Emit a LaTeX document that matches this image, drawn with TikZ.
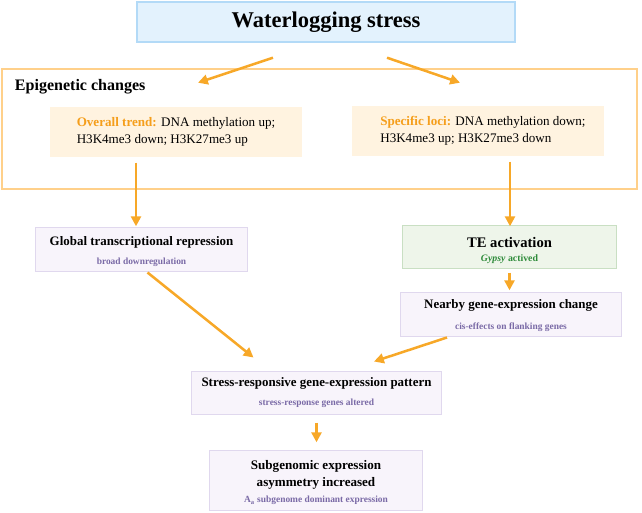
\documentclass[tikz,border=0pt]{standalone}
\usepackage{fontspec}
\setmainfont{Liberation Serif}
\usepackage{xcolor}
\usepackage{tikz}
\usetikzlibrary{arrows.meta, positioning, calc}

\definecolor{skyfill}{HTML}{E3F2FD}
\definecolor{skyline}{HTML}{B3DAF7}
\definecolor{frameline}{HTML}{FFD08A}
\definecolor{peach}{HTML}{FFF3E0}
\definecolor{trendorange}{HTML}{F59E1B}
\definecolor{flowcol}{HTML}{F7A828}
\definecolor{lavfill}{HTML}{F8F4FB}
\definecolor{lavline}{HTML}{E0D8EE}
\definecolor{subpurple}{HTML}{7A6AA6}
\definecolor{mintfill}{HTML}{EEF5EA}
\definecolor{mintline}{HTML}{C9DFC3}
\definecolor{leafgreen}{HTML}{2E8B3A}

\newcommand{\boxhead}[1]{{\fontsize{9.2}{11}\selectfont\bfseries #1}}
\newcommand{\boxsub}[1]{{\fontsize{6.7}{8}\selectfont\bfseries\color{subpurple}#1}}

\begin{document}
\begin{tikzpicture}[
    x=0.025cm, y=-0.025cm,
    flow/.style={draw=flowcol, line width=1.8pt, -{Triangle[length=7pt,width=7pt]}},
    stressbox/.style={draw=skyline, line width=1pt, fill=skyfill, minimum width=9.45cm, minimum height=1cm, font=\fontsize{16}{19}\selectfont\bfseries},
    epiframe/.style={draw=frameline, line width=1pt, minimum width=15.875cm, minimum height=3cm},
    markbox/.style={fill=peach, minimum width=6.3cm, minimum height=1.27cm, align=left, font=\fontsize{9.3}{12}\selectfont},
    outbox/.style={draw=lavline, line width=0.7pt, fill=lavfill, align=center, inner sep=0pt},
    tebox/.style={draw=mintline, line width=0.7pt, fill=mintfill, align=center, inner sep=0pt}
]
\useasboundingbox (0,0) rectangle (642,512);

% top and epigenetic block
\node[stressbox] (stress) at (326,22) {Waterlogging stress};
\node[epiframe] (epi) at (319.5,129) {};
\node[anchor=west, font=\fontsize{11.4}{13}\selectfont\bfseries] (epititle) at (10,87) {Epigenetic changes};
\node[markbox] (trend) at (176,132)
  {\textcolor{trendorange}{\bfseries Overall trend:} DNA methylation up;\\H3K4me3 down; H3K27me3 up};
\node[markbox] (loci) at (478,131)
  {\hspace*{7pt}\textcolor{trendorange}{\bfseries Specific loci:} DNA methylation down;\\\hspace*{7pt}H3K4me3 up; H3K27me3 down};

% downstream boxes
\node[outbox, minimum width=5.275cm, minimum height=1.1cm] (global) at (141.5,249)
  {\boxhead{\rule{0pt}{9.5pt}Global transcriptional repression}\\[1.5pt]\boxsub{broad downregulation}};
\node[tebox, minimum width=5.325cm, minimum height=1.075cm] (te) at (509.5,246.5)
  {{\fontsize{10.4}{12}\selectfont\bfseries\rule{0pt}{12.7pt}TE activation}\\[-2.4pt]{\fontsize{7}{8}\selectfont\bfseries\color{leafgreen}\itshape Gypsy\upshape{} actived}};
\node[outbox, minimum width=5.5cm, minimum height=1.1cm] (nearby) at (511,314)
  {\boxhead{\rule{0pt}{8.5pt}Nearby gene-expression change}\\[3pt]\boxsub{cis-effects on flanking genes}};
\node[outbox, minimum width=6.225cm, minimum height=1.075cm] (pattern) at (316.5,392.5)
  {\boxhead{Stress-responsive gene-expression pattern}\\[2pt]\boxsub{stress-response genes altered}};
\node[outbox, minimum width=5.3cm, minimum height=1.5cm, font=\fontsize{9.3}{11.9}\selectfont\bfseries] (asym) at (316,480)
  {\rule{0pt}{10.5pt}Subgenomic expression\\asymmetry increased\\[-0.5pt]\boxsub{A\textsubscript{a} subgenome dominant expression}};

% arrows
\draw[flow] ([shift={(-53,15)}]stress.south) -- ([shift={(-128,40)}]stress.south);
\draw[flow] ([shift={(61,15)}]stress.south) -- ([shift={(134,40)}]stress.south);
\draw[flow, shorten >=1.3mm] ([shift={(-40,5)}]trend.south) -- ([shift={(-40,5)}]trend.south |- global.north);
\draw[flow, shorten >=0.8mm] ([shift={(32,5)}]loci.south) -- ([shift={(32,5)}]loci.south |- te.north);
\draw[flow, shorten >=0.3mm] ([shift={(0,4)}]te.south) -- (te.south |- nearby.north);
\draw[flow] ([shift={(6,1)}]global.south) -- ([shift={(-63,-13)}]pattern.north);
\draw[flow] ([shift={(-64,1)}]nearby.south) -- ([shift={(57.5,-9)}]pattern.north);
\draw[flow, shorten >=1.8mm] ([shift={(0,8)}]pattern.south) -- (pattern.south |- asym.north);
\end{tikzpicture}
\end{document}
